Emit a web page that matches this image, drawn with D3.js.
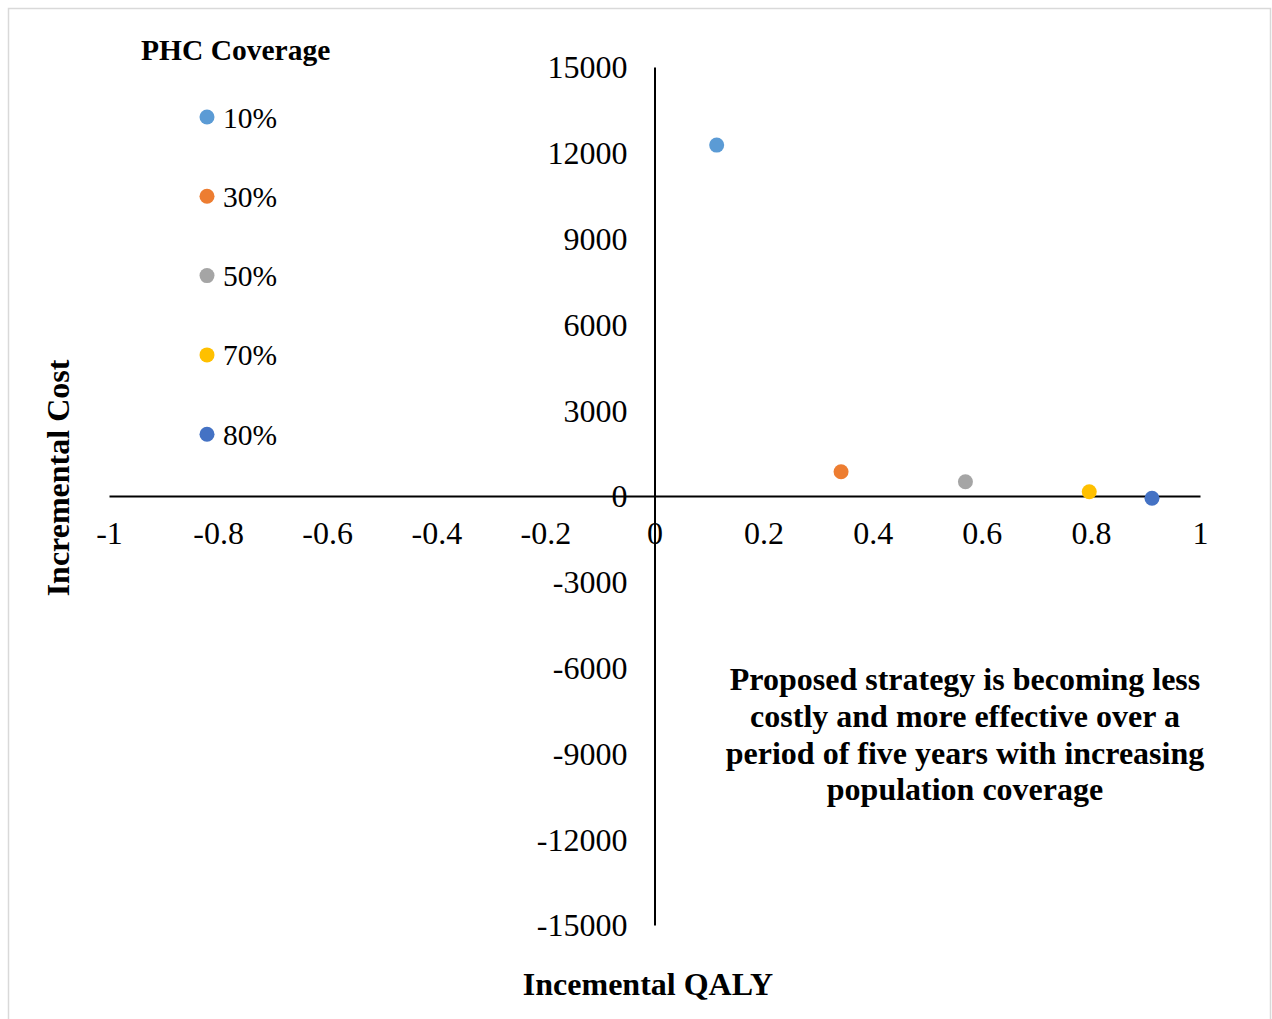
<!DOCTYPE html>
<html>
<head>
<meta charset="utf-8">
<script src="https://cdn.jsdelivr.net/npm/d3@7"></script>
<style>
  html, body { margin: 0; padding: 0; background: #fff; }
  svg { display: block; }
  text { font-family: "Liberation Serif", "Times New Roman", serif; fill: #000; }
</style>
</head>
<body>
<svg id="chart" width="1272" height="1019"></svg>
<script>
const categories = ["10%", "30%", "50%", "70%", "80%"];
const qalyValues = [0.114, 0.342, 0.570, 0.797, 0.912];
const costValues = [12270, 850, 500, 150, -80];
const colors = ["#5B9BD5", "#ED7D31", "#A5A5A5", "#FFC000", "#4472C4"];
const xTicks = [-1, -0.8, -0.6, -0.4, -0.2, 0, 0.2, 0.4, 0.6, 0.8, 1];
const yTicks = [-15000, -12000, -9000, -6000, -3000, 0, 3000, 6000, 9000, 12000, 15000];
const legendTitle = "PHC Coverage";
const xTitle = "Incemental QALY";
const yTitle = "Incremental Cost";
const noteLines = ["Proposed strategy is becoming less", "costly and more effective over a", "period of five years with increasing", "population coverage"];

const svg = d3.select("#chart");

svg.append("rect").attr("x", 8.5).attr("y", 8.5).attr("width", 1262).attr("height", 1030)
  .attr("fill", "none").attr("stroke", "#d9d9d9").attr("stroke-width", 1.5);

const x = d3.scaleLinear().domain([-1, 1]).range([109, 1200]);
const y = d3.scaleLinear().domain([-15000, 15000]).range([925, 67]);

// X axis through y=0
const xAxis = svg.append("g").attr("transform", `translate(0,${y(0)})`)
  .call(d3.axisBottom(x).tickValues(xTicks).tickSize(0).tickPadding(0)
    .tickFormat(d => String(+d.toFixed(1))));
xAxis.select(".domain").attr("stroke", "#000").attr("stroke-width", 2);
xAxis.selectAll("text").attr("font-size", 32).attr("dy", null).attr("y", 0)
  .attr("transform", "translate(0,48)")
  .style("font-family", "Liberation Serif").attr("fill", "#000");

// Y axis through x=0
const yAxis = svg.append("g").attr("transform", `translate(${x(0)},0)`)
  .call(d3.axisLeft(y).tickValues(yTicks).tickSize(0).tickPadding(27).tickFormat(d => String(d)));
yAxis.select(".domain").attr("stroke", "#000").attr("stroke-width", 2);
yAxis.selectAll("text").attr("font-size", 32).attr("dy", "0.34em")
  .style("font-family", "Liberation Serif").attr("fill", "#000");

// Points
svg.append("g").selectAll("circle").data(categories).join("circle")
  .attr("cx", (d, i) => x(qalyValues[i]))
  .attr("cy", (d, i) => y(costValues[i]))
  .attr("r", 7.5)
  .attr("fill", (d, i) => colors[i]);

// Legend
svg.append("text").attr("x", 141).attr("y", 60).attr("font-size", 29.5).attr("font-weight", "bold")
  .text(legendTitle);
const leg = svg.append("g").selectAll("g").data(categories).join("g")
  .attr("transform", (d, i) => `translate(207,${117 + i * 79.3})`);
leg.append("circle").attr("r", 7.5).attr("fill", (d, i) => colors[i]);
leg.append("text").attr("x", 16).attr("y", 10.5).attr("font-size", 29.5).text(d => d);

// Axis titles
svg.append("text").attr("x", 648).attr("y", 995).attr("text-anchor", "middle")
  .attr("font-size", 32).attr("font-weight", "bold").text(xTitle);
svg.append("text").attr("transform", "translate(69,478) rotate(-90)").attr("text-anchor", "middle")
  .attr("font-size", 32).attr("font-weight", "bold").text(yTitle);

// Annotation
svg.append("g").selectAll("text").data(noteLines).join("text")
  .attr("x", 965).attr("y", (d, i) => 690 + i * 36.8)
  .attr("text-anchor", "middle").attr("font-size", 32).attr("font-weight", "bold")
  .text(d => d);
</script>
</body>
</html>
